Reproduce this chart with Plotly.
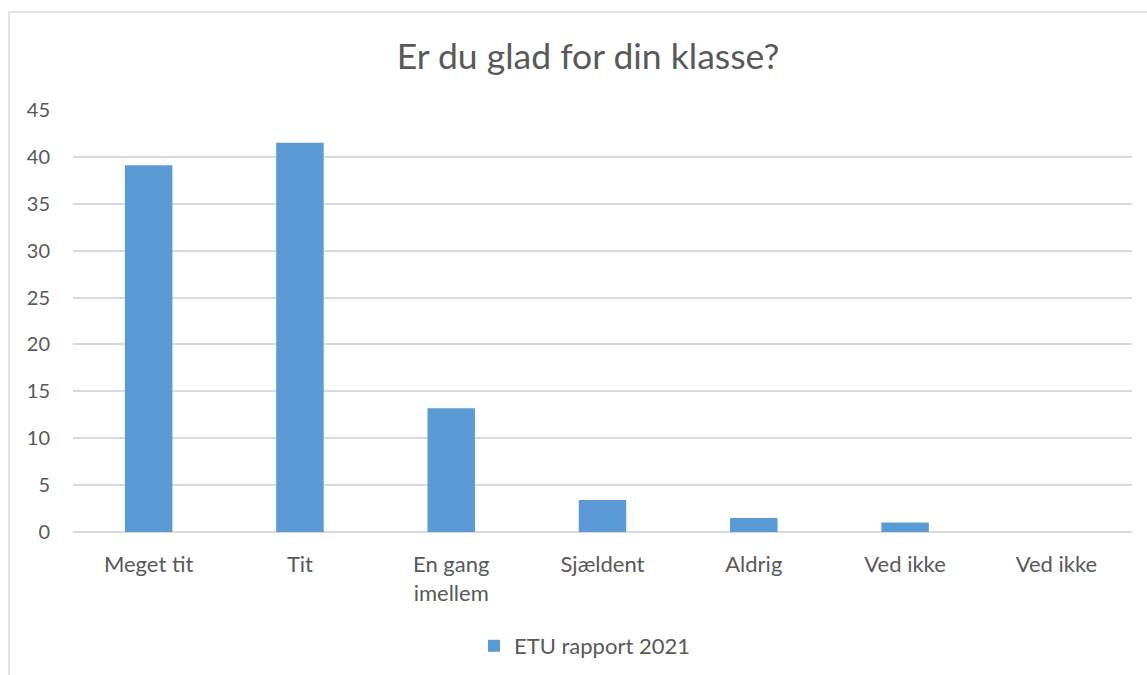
import plotly.graph_objects as go

categories = ["Meget tit", "Tit", "En gang<br>imellem", "Sjældent", "Aldrig", "Ved ikke", "Ved ikke"]
values = [39.1, 41.5, 13.2, 3.4, 1.5, 1.0, 0.0]
series_name = "ETU rapport 2021"
title_text = "Er du glad for din klasse?"
y_ticks = [0, 5, 10, 15, 20, 25, 30, 35, 40, 45]

positions = list(range(len(categories)))

FONT = "Lato, Carlito, 'Liberation Sans', sans-serif"
TXT = "#595959"
GRID = "#D9D9D9"

fig = go.Figure()
fig.add_trace(go.Bar(
    x=positions, y=values, name=series_name,
    marker=dict(color="#5B9BD5", line=dict(width=0)),
    showlegend=True,
))

W, H = 1147, 675
ml, mr, mt, mb = 73, 15, 110, 143
pw = W - ml - mr
ph = H - mt - mb

def px_x(x):
    return (x - ml) / pw

def px_y(y):
    return (H - mb - y) / ph

fig.update_layout(
    width=W, height=H,
    margin=dict(l=ml, r=mr, t=mt, b=mb, pad=0, autoexpand=False),
    paper_bgcolor="white", plot_bgcolor="white",
    font=dict(family=FONT, color=TXT, size=21),
    title=dict(text=title_text, x=588 / W, xanchor="center", xref="container",
               y=1 - 57 / H, yanchor="middle", yref="container",
               font=dict(size=35.5, color=TXT, family=FONT)),
    bargap=0.686,
    xaxis=dict(
        tickmode="array", tickvals=positions, ticktext=categories,
        range=[-0.5, len(categories) - 0.5],
        showgrid=False, zeroline=False, showline=False,
        ticks="", ticklabelstandoff=17, automargin=False,
        tickfont=dict(size=22, color=TXT, family=FONT),
    ),
    yaxis=dict(
        range=[0, 45], tickmode="array", tickvals=y_ticks,
        showgrid=True, gridcolor=GRID, gridwidth=1.5,
        zeroline=True, zerolinecolor=GRID, zerolinewidth=1.5,
        showline=False, ticks="", ticklabelstandoff=22, automargin=False,
        tickfont=dict(size=20, color=TXT, family=FONT),
    ),
    legend=dict(orientation="h", x=px_x(474), xanchor="left",
                y=px_y(646), yanchor="middle",
                font=dict(size=22, color=TXT, family=FONT),
                itemwidth=30),
    shapes=[dict(type="rect", xref="paper", yref="paper",
                 x0=px_x(9), x1=px_x(1160), y0=px_y(700), y1=px_y(12),
                 line=dict(color=GRID, width=1.5), fillcolor="rgba(0,0,0,0)",
                 layer="below")],
)

fig.write_html("out.html", config={"displayModeBar": False},
               post_script="document.body.style.margin='0';document.body.style.padding='0';")
